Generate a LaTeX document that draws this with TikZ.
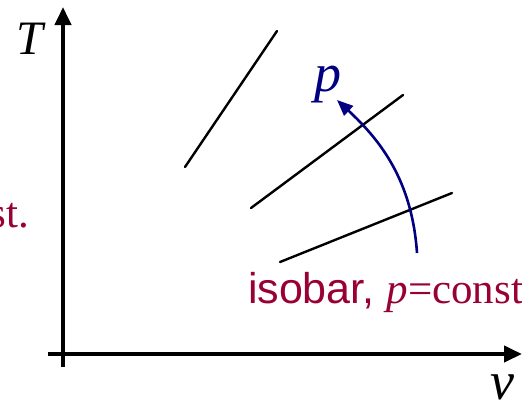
\documentclass[tikz,border=0pt]{standalone}
\usepackage{fontspec}
\setmainfont{Liberation Serif}
\setsansfont{Liberation Sans}
\usetikzlibrary{arrows.meta}
\definecolor{crimsonlbl}{HTML}{990033}
\definecolor{navyarc}{HTML}{000080}
\tikzset{
  axis/.style={line width=2pt,-{Triangle[length=9pt,width=8pt]}},
  isoline/.style={line width=1.2pt,line cap=round},
  parrow/.style={line width=1.3pt,navyarc,-{Triangle[length=8pt,width=6.5pt]}},
  lbl/.style={inner sep=0pt,outer sep=0pt},
}
\begin{document}
\begin{tikzpicture}[x=0.5pt,y=-0.5pt]
\useasboundingbox (0,0) rectangle (522,408);
% axes
\coordinate (vb) at (63,367);
\coordinate (vt) at (63,7);
\coordinate (hl) at (48,354);
\coordinate (hr) at (522,354);
\draw[axis] (vb) -- (vt);
\draw[axis] (hl) -- (hr);
% axis labels
\node[lbl,font=\fontsize{24}{28}\selectfont\itshape] (T) at (30,39) {T};
\node[lbl,font=\fontsize{27}{30}\selectfont\itshape,anchor=base] (v) at (502,399) {v};
% isolines
\coordinate (a1) at (185,167); \coordinate (a2) at (277,31);
\coordinate (b1) at (251,208); \coordinate (b2) at (403,95);
\coordinate (c1) at (280,262); \coordinate (c2) at (452,193);
\draw[isoline] (a1) -- (a2);
\draw[isoline] (b1) -- (b2);
\draw[isoline] (c1) -- (c2);
% p arrow
\coordinate (ps) at (417,253);
\coordinate (pe) at (337,100);
\draw[parrow] (ps) .. controls (412,180) and (380,140) .. (pe);
\node[lbl,navyarc,font=\fontsize{27}{30}\selectfont\itshape,anchor=base] (p) at (328,91) {p};
% labels
\node[lbl,crimsonlbl,anchor=base west,font=\fontsize{21.5}{25}\selectfont] (iso) at (248,303) {\sffamily isobar, \rmfamily\itshape p\upshape =const};
\node[lbl,crimsonlbl,anchor=base east,font=\fontsize{21.5}{25}\selectfont] (st) at (29,227) {st.};
\end{tikzpicture}
\end{document}
